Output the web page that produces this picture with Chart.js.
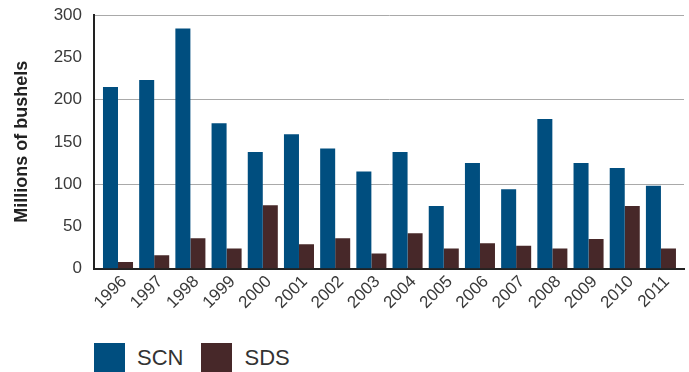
<!DOCTYPE html>
<html>
<head>
<meta charset="utf-8">
<title>SCN and SDS</title>
<script src="https://cdn.jsdelivr.net/npm/chart.js@4.4.1/dist/chart.umd.min.js"></script>
<style>
  body { margin: 0; background: #fff; font-family: "Liberation Sans", Arial, sans-serif; }
  #wrap { position: relative; width: 689px; height: 372px; overflow: hidden; }
  #chart-box { position: absolute; left: 0; top: 0; width: 689px; height: 322px; }
  #legend { position: absolute; left: 94px; top: 343px; display: flex; align-items: center; }
  .item { display: flex; align-items: center; margin-right: 18px; }
  .box { width: 31px; height: 29px; }
  .lbl { margin-left: 12px; font-size: 22px; color: #333; line-height: 29px; }
</style>
</head>
<body>
<div id="wrap">
  <div id="chart-box"><canvas id="bar-chart"></canvas></div>
  <div id="legend"></div>
</div>
<script>
// data (millions of bushels)
var years = ['1996', '1997', '1998', '1999', '2000', '2001', '2002', '2003',
             '2004', '2005', '2006', '2007', '2008', '2009', '2010', '2011'];
var scn = [215, 223, 284, 172, 138, 159, 142, 115, 138, 74, 125, 94, 177, 125, 119, 98];
var sds = [8, 16, 36, 24, 75, 29, 36, 18, 42, 24, 30, 27, 24, 35, 74, 24];
var seriesNames = ['SCN', 'SDS'];
var seriesColors = ['#004e7f', '#472829'];
var yTicks = [0, 50, 100, 150, 200, 250, 300];

var textColor = '#3a3a3a';
var font = '"Liberation Sans", Arial, sans-serif';

var ctx = document.getElementById('bar-chart').getContext('2d');
var chart = new Chart(ctx, {
  type: 'bar',
  data: {
    labels: years,
    datasets: [
      { label: seriesNames[0], data: scn, backgroundColor: seriesColors[0] },
      { label: seriesNames[1], data: sds, backgroundColor: seriesColors[1] }
    ]
  },
  options: {
    responsive: true,
    maintainAspectRatio: false,
    animation: false,
    datasets: { bar: { categoryPercentage: 0.83, barPercentage: 1 } },
    layout: { padding: { top: 15, right: 5, left: 0, bottom: 0 } },
    plugins: { legend: { display: false }, tooltip: { enabled: false } },
    scales: {
      x: {
        grid: { display: false, drawTicks: false },
        border: { color: '#222', width: 2 },
        ticks: {
          minRotation: 45, maxRotation: 45, autoSkip: false,
          labelOffset: 6, padding: 3,
          color: textColor, font: { family: font, size: 17 }
        },
        // the bars sit a little inside the axis lines on both ends
        afterBuildTicks: function (scale) {
          scale._startValue = -0.663;
          scale._valueRange = 16.3;
        },
        afterFit: function (scale) { scale.height = 322 - 268.7; }
      },
      y: {
        min: 0, max: 300,
        afterBuildTicks: function (scale) {
          scale.ticks = yTicks.map(function (v) { return { value: v }; });
        },
        grid: {
          drawTicks: false,
          lineWidth: 1,
          color: function (c) {
            return c.tick && c.tick.value % 100 === 0 && c.tick.value !== 0 ? '#a9a9a9' : 'rgba(0,0,0,0)';
          }
        },
        border: { color: '#222', width: 2 },
        ticks: { padding: 12, color: textColor, font: { family: font, size: 17 } },
        title: {
          display: true, text: 'Millions of bushels',
          color: '#222', font: { family: font, size: 18, weight: 'bold' },
          padding: { top: 11, bottom: 0 }
        },
        afterFit: function (scale) {
          scale.width = 94;
          scale.paddingTop = 0;
        }
      }
    }
  }
});

// legend
var legend = document.getElementById('legend');
seriesNames.forEach(function (name, i) {
  var item = document.createElement('div');
  item.className = 'item';
  item.innerHTML = '<span class="box" style="background:' + seriesColors[i] + '"></span><span class="lbl">' + name + '</span>';
  legend.appendChild(item);
});
</script>
</body>
</html>
